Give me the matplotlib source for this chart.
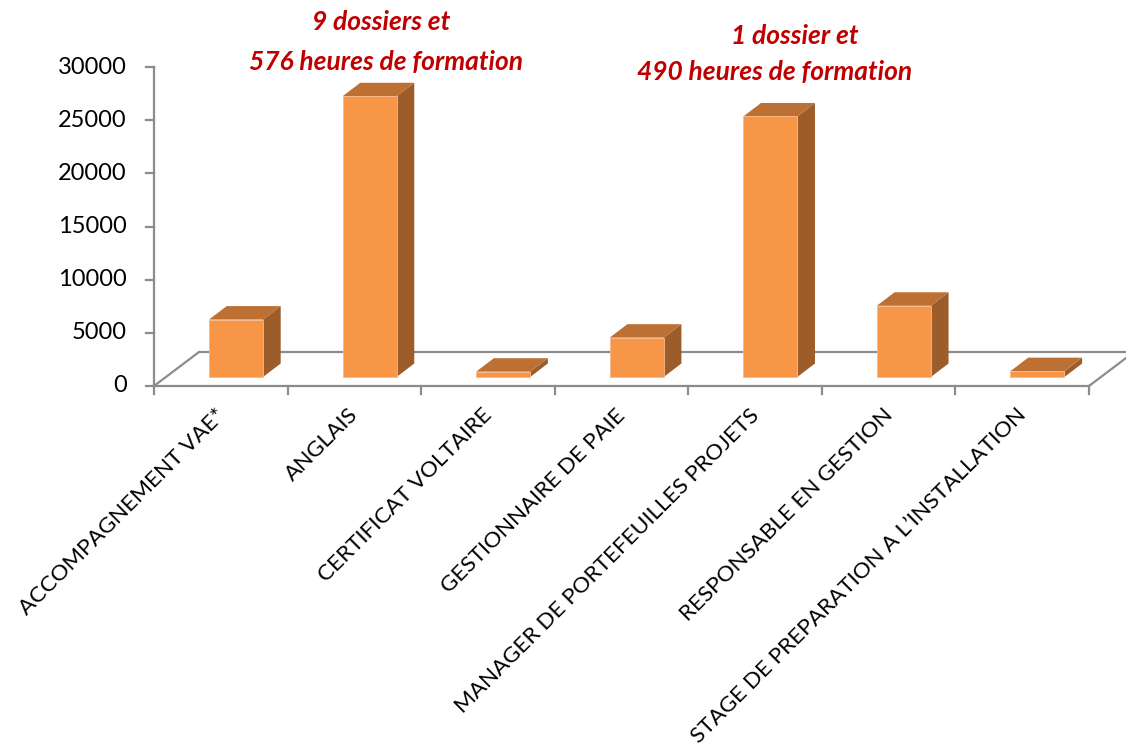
import matplotlib
matplotlib.use("Agg")
import matplotlib.pyplot as plt
from matplotlib.patches import Polygon
from matplotlib.transforms import ScaledTranslation

# ---- data ----
categories = [
    "ACCOMPAGNEMENT VAE*",
    "ANGLAIS",
    "CERTIFICAT VOLTAIRE",
    "GESTIONNAIRE DE PAIE",
    "MANAGER DE PORTEFEUILLES PROJETS",
    "RESPONSABLE EN GESTION",
    "STAGE DE PREPARATION A L\u2019INSTALLATION",
]
values = [5400, 26400, 500, 3700, 24500, 6700, 550]
y_ticks = [0, 5000, 10000, 15000, 20000, 25000, 30000]
notes = [
    ("9 dossiers et", 381, 22),
    ("576 heures de formation", 386, 62),
    ("1 dossier et", 795, 36),
    ("490 heures de formation", 775, 72),
]

# ---- style ----
W, H, DPI = 1126, 751, 100
FRONT = "#F79646"
TOP = "#BD7034"
SIDE = "#9C5D2B"
AXC = "#8C8C8C"
FONT = "Lato"

fig = plt.figure(figsize=(W / DPI, H / DPI), dpi=DPI)
ax_left, ax_right, ax_top, ax_bot = 154, 1089, 67, 386
ax = fig.add_axes([ax_left / W, 1 - ax_bot / H, (ax_right - ax_left) / W, (ax_bot - ax_top) / H])
n = len(categories)
ymax = y_ticks[-1]
ax.set_xlim(0, n)
ax.set_ylim(0, ymax)
ax.axis("off")

px_x = (ax_right - ax_left) / n      # pixels per category
px_y = (ax_bot - ax_top) / ymax      # pixels per value unit

def dxp(p):
    return p / px_x

def dyp(p):
    return p / px_y

# floor (depth offsets in pixels)
FDX, FDY = 45, 34
lw = 1.6
ax.plot([0, dxp(FDX)], [0, dyp(FDY)], color=AXC, lw=lw, clip_on=False, zorder=1, solid_capstyle="butt")
ax.plot([dxp(FDX), n + dxp(FDX)], [dyp(FDY), dyp(FDY)], color=AXC, lw=lw, clip_on=False, zorder=1)
ax.plot([n, n + dxp(FDX)], [0, dyp(FDY)], color=AXC, lw=lw, clip_on=False, zorder=1)

# front axis lines
ax.plot([0, n], [0, 0], color=AXC, lw=lw, clip_on=False, zorder=1)
ax.plot([0, 0], [0, ymax], color=AXC, lw=lw, clip_on=False, zorder=1)
for t in y_ticks:
    ax.plot([-dxp(8), 0], [t, t], color=AXC, lw=lw, clip_on=False, zorder=1)
    ax.text(-dxp(27), t, str(t), ha="right", va="center", fontsize=17,
            family=FONT, color="black")
for i in range(n + 1):
    ax.plot([i, i], [0, -dyp(8)], color=AXC, lw=lw, clip_on=False, zorder=1)

# bars
BAR_OFF = 55      # px from category start to front-face left
BAR_W = 54        # px
BASE = 9          # px above front edge
BDX, BDY = 17.7, 13.5
for i, v in enumerate(values):
    x0 = i + dxp(BAR_OFF)
    x1 = x0 + dxp(BAR_W)
    y0 = dyp(BASE)
    y1 = y0 + v
    ddx, ddy = dxp(BDX), dyp(BDY)
    # side
    ax.add_patch(Polygon([(x1, y0), (x1 + ddx, y0 + ddy), (x1 + ddx, y1 + ddy), (x1, y1)],
                         closed=True, facecolor=SIDE, edgecolor="none", zorder=3, clip_on=False))
    # top
    ax.add_patch(Polygon([(x0, y1), (x1, y1), (x1 + ddx, y1 + ddy), (x0 + ddx, y1 + ddy)],
                         closed=True, facecolor=TOP, edgecolor="none", zorder=3, clip_on=False))
    # front
    ax.bar(x0, v, width=x1 - x0, bottom=y0, align="edge", color=FRONT,
           edgecolor="#FBB889", linewidth=0.6, zorder=4, clip_on=False)

# category labels
off = ScaledTranslation(1 / DPI, -26 / DPI, fig.dpi_scale_trans)
for i, c in enumerate(categories):
    ax.text(i + 0.5, 0, c, rotation=45, rotation_mode="anchor", ha="right", va="center",
            fontsize=16.2, family=FONT, color="black", transform=ax.transData + off)

# annotations
for txt, x, y in notes:
    fig.text(x / W, 1 - y / H, txt, ha="center", va="center", fontsize=19,
             family=FONT, fontweight="bold", fontstyle="italic", color="#C00000")

fig.savefig("out.png", dpi=DPI)
